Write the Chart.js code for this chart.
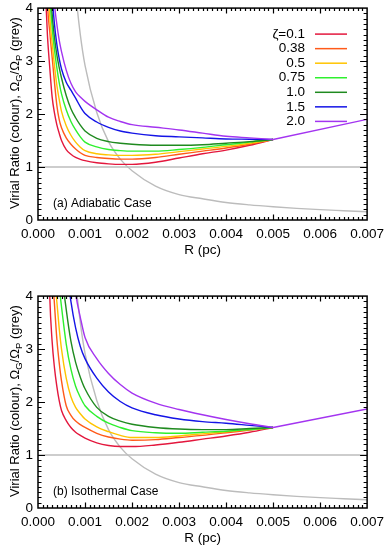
<!DOCTYPE html>
<html>
<head>
<meta charset="utf-8">
<script src="https://cdn.jsdelivr.net/npm/chart.js@4.4.1/dist/chart.umd.min.js"></script>
<style>
    html, body { margin: 0; padding: 0; background: #fff; overflow: hidden; }
    body { position: relative; width: 390px; height: 549px; }
    .panel { position: absolute; left: 0; width: 390px; height: 275px; }
    #top { top: -5px; }
    #bottom { top: 283px; }
</style>
</head>
<body>
<div class="panel" id="top"><canvas id="adiabatic" width="390" height="275"></canvas></div>
<div class="panel" id="bottom"><canvas id="isothermal" width="390" height="275"></canvas></div>
<script>
'use strict';

// radius grid (pc) shared by the coloured curves
const rGrid = [0.0001, 0.00015, 0.0002, 0.00025, 0.0003, 0.00035, 0.0004, 0.00045, 0.0005, 0.0006, 0.0007, 0.0008, 0.0009,
    0.001, 0.00125, 0.0015, 0.00175, 0.002, 0.0025, 0.003, 0.0035, 0.004, 0.0045, 0.005];

// (a) adiabatic case, virial ratio per zeta
const adiZ01  = [null, 4.5, 3.5, 2.88, 2.33, 2.02, 1.80, 1.64, 1.50, 1.33, 1.24, 1.18, 1.145, 1.12, 1.08, 1.06, 1.05, 1.05, 1.09, 1.17, 1.25, 1.32, 1.41, 1.52];
const adiZ038 = [null, 6.0, 4.15, 3.55, 3.08, 2.60, 2.17, 1.90, 1.74, 1.55, 1.43, 1.34, 1.27, 1.22, 1.18, 1.16, 1.15, 1.15, 1.18, 1.24, 1.30, 1.36, 1.43, 1.52];
const adiZ05  = [null, 7.0, 5.0, 3.85, 3.35, 2.92, 2.55, 2.28, 2.05, 1.78, 1.60, 1.47, 1.375, 1.31, 1.25, 1.23, 1.22, 1.22, 1.24, 1.29, 1.34, 1.39, 1.45, 1.52];
const adiZ075 = [null, null, 5.8, 4.3, 3.65, 3.22, 2.88, 2.60, 2.38, 2.08, 1.86, 1.70, 1.57, 1.47, 1.38, 1.33, 1.31, 1.30, 1.30, 1.33, 1.37, 1.42, 1.47, 1.52];
const adiZ10  = [null, null, 6.5, 4.7, 3.9, 3.45, 3.12, 2.88, 2.68, 2.35, 2.10, 1.93, 1.79, 1.68, 1.54, 1.48, 1.45, 1.43, 1.41, 1.41, 1.42, 1.45, 1.48, 1.52];
const adiZ15  = [null, null, 8.0, 5.6, 4.3, 3.7, 3.32, 3.05, 2.85, 2.60, 2.45, 2.30, 2.14, 2.01, 1.85, 1.75, 1.68, 1.64, 1.59, 1.57, 1.55, 1.53, 1.525, 1.52];
const adiZ20  = [null, null, 9.0, 6.5, 5.0, 4.1, 3.7, 3.4, 3.18, 2.83, 2.58, 2.42, 2.32, 2.24, 2.08, 1.94, 1.86, 1.80, 1.75, 1.70, 1.64, 1.58, 1.55, 1.52];

// (b) isothermal case
const isoZ01  = [null, null, 6.0, 4.0, 3.15, 2.65, 2.30, 2.03, 1.84, 1.65, 1.52, 1.43, 1.37, 1.32, 1.23, 1.18, 1.16, 1.16, 1.19, 1.24, 1.30, 1.36, 1.43, 1.52];
const isoZ038 = [null, null, null, 6.0, 4.6, 3.85, 3.2, 2.75, 2.4, 1.93, 1.75, 1.64, 1.575, 1.52, 1.41, 1.34, 1.30, 1.28, 1.29, 1.33, 1.37, 1.42, 1.47, 1.52];
const isoZ05  = [null, null, null, 7.5, 5.6, 4.5, 3.9, 3.4, 3.0, 2.45, 2.1, 1.9, 1.78, 1.68, 1.53, 1.44, 1.37, 1.33, 1.33, 1.36, 1.40, 1.44, 1.48, 1.52];
const isoZ075 = [null, null, null, null, 7.0, 5.6, 4.7, 4.2, 3.8, 3.1, 2.62, 2.3, 2.09, 1.93, 1.73, 1.60, 1.52, 1.46, 1.42, 1.41, 1.43, 1.45, 1.48, 1.52];
const isoZ10  = [null, null, null, null, null, 7.2, 6.0, 5.1, 4.5, 3.75, 3.15, 2.75, 2.47, 2.25, 1.90, 1.73, 1.64, 1.58, 1.52, 1.49, 1.48, 1.48, 1.50, 1.52];
const isoZ15  = [null, null, null, null, null, null, 7.8, 6.6, 5.7, 4.6, 3.9, 3.4, 3.05, 2.82, 2.45, 2.19, 2.01, 1.89, 1.76, 1.68, 1.63, 1.60, 1.56, 1.52];
const isoZ20  = [null, null, null, null, null, null, null, 8.5, 7.3, 5.8, 4.8, 4.05, 3.6, 3.22, 2.82, 2.54, 2.33, 2.17, 1.98, 1.86, 1.76, 1.67, 1.59, 1.52];

// zeta=2.0 continues past 0.005 pc
const tailR = [0.005, 0.007];
const adiTail = [1.52, 1.90];
const isoTail = [1.52, 1.87];

// grey curve: Omega_G / Omega_P
const greyR = [0.0007, 0.0008, 0.0009, 0.001, 0.00125, 0.0015, 0.00175, 0.002, 0.0025, 0.003, 0.0035, 0.004,
    0.0045, 0.005, 0.0055, 0.006, 0.0065, 0.007];
const greyRatio = [5.3, 4.3, 3.5, 2.92, 2.03, 1.48, 1.15, 0.93, 0.64, 0.48, 0.40, 0.33, 0.285, 0.25, 0.22, 0.195, 0.175, 0.155];
const unityR = [0, 0.007];
const unity = [1, 1];

const zetaLabels = ['\u03b6=0.1', '0.38', '0.5', '0.75', '1.0', '1.5', '2.0'];
const zetaColors = ['#e3173d', '#ff5a1a', '#ffc400', '#2ef02e', '#1f8a1f', '#1414e6', '#a334f0'];

const xTicks = [0, 0.001, 0.002, 0.003, 0.004, 0.005, 0.006, 0.007];
const xTickLabels = ['0.000', '0.001', '0.002', '0.003', '0.004', '0.005', '0.006', '0.007'];
const yTicks = [0, 1, 2, 3, 4];
const yTickLabels = ['0', '1', '2', '3', '4'];

const FONT = "'Liberation Sans', Arial, sans-serif";
const GREY = '#bcbcbc';

function pts(xs, ys) {
    return xs.map((x, i) => ({x: x, y: ys[i]}));
}

const framePlugin = {
    id: 'frame',
    afterDraw(chart, args, opts) {
        const {ctx, chartArea: a} = chart;
        const x = chart.scales.x, y = chart.scales.y;
        ctx.save();
        ctx.setLineDash([]);
        ctx.strokeStyle = '#000';

        ctx.lineWidth = 1.5;
        ctx.strokeRect(a.left, a.top, a.right - a.left, a.bottom - a.top);

        // inward ticks on all four sides
        ctx.lineWidth = 1.2;
        ctx.beginPath();
        for (let i = 1; i < 70; i++) {
            const px = Math.round(x.getPixelForValue(i * 0.0001)) + 0.5;
            const len = i % 10 === 0 ? 5.5 : 3;
            ctx.moveTo(px, a.bottom); ctx.lineTo(px, a.bottom - len);
            ctx.moveTo(px, a.top); ctx.lineTo(px, a.top + len);
        }
        for (let i = 1; i < 40; i++) {
            const py = Math.round(y.getPixelForValue(i * 0.1)) + 0.5;
            const len = i % 10 === 0 ? 7 : 3.5;
            ctx.moveTo(a.left, py); ctx.lineTo(a.left + len, py);
            ctx.moveTo(a.right, py); ctx.lineTo(a.right - len, py);
        }
        ctx.stroke();

        ctx.fillStyle = '#000';

        // x title
        ctx.font = '13.5px ' + FONT;
        ctx.textAlign = 'center';
        ctx.textBaseline = 'middle';
        ctx.fillText('R (pc)', (a.left + a.right) / 2, a.bottom + 30);

        // y title with subscripts
        const parts = [
            ['Virial Ratio (colour), \u03a9', false],
            ['G', true],
            ['/\u03a9', false],
            ['P', true],
            [' (grey)', false]
        ];
        const big = '13px ' + FONT, small = '9.5px ' + FONT;
        let total = 0;
        parts.forEach(p => {
            ctx.font = p[1] ? small : big;
            total += ctx.measureText(p[0]).width;
        });
        ctx.translate(19, a.top + 105);
        ctx.rotate(-Math.PI / 2);
        ctx.textAlign = 'left';
        ctx.textBaseline = 'alphabetic';
        let cx = -total / 2;
        parts.forEach(p => {
            ctx.font = p[1] ? small : big;
            ctx.fillText(p[0], cx, p[1] ? 3 : 0);
            cx += ctx.measureText(p[0]).width;
        });
        ctx.setTransform(1, 0, 0, 1, 0, 0);

        // panel label
        ctx.font = '12px ' + FONT;
        ctx.textAlign = 'left';
        ctx.fillText(opts.label, a.left + 15, a.bottom - 13.5);

        // legend
        if (opts.legend) {
            ctx.font = '13.5px ' + FONT;
            ctx.textAlign = 'right';
            ctx.textBaseline = 'middle';
            zetaLabels.forEach((lab, i) => {
                const ly = a.top + 26 + i * 14.55;
                ctx.fillStyle = '#000';
                ctx.fillText(lab, a.left + 267, ly);
                ctx.strokeStyle = zetaColors[i];
                ctx.lineWidth = 1.5;
                ctx.beginPath();
                ctx.moveTo(a.left + 277, ly);
                ctx.lineTo(a.left + 309, ly);
                ctx.stroke();
            });
        }
        ctx.restore();
    }
};

function makeChart(id, series, tail, label, legend) {
    const datasets = [];
    series.forEach((vals, i) => {
        datasets.push({
            data: pts(rGrid, vals),
            borderColor: zetaColors[i],
            order: 6 - i
        });
    });
    datasets.push({data: pts(tailR, tail), borderColor: zetaColors[6], order: 0, cubicInterpolationMode: 'default', tension: 0});
    datasets.push({data: pts(greyR, greyRatio), borderColor: GREY, order: 8});
    datasets.push({data: pts(unityR, unity), borderColor: GREY, order: 9, tension: 0});

    return new Chart(document.getElementById(id), {
        type: 'line',
        data: {datasets: datasets},
        options: {
            responsive: false,
            animation: false,
            devicePixelRatio: 1,
            events: [],
            layout: {padding: {left: 0, right: 19, top: 10, bottom: 0}},
            elements: {
                point: {radius: 0},
                line: {borderWidth: 1.4, cubicInterpolationMode: 'monotone', fill: false}
            },
            plugins: {
                legend: {display: false},
                tooltip: {enabled: false},
                frame: {label: label, legend: legend}
            },
            scales: {
                x: {
                    type: 'linear',
                    min: 0,
                    max: 0.007,
                    grid: {display: false, drawTicks: false},
                    border: {display: false},
                    afterBuildTicks: s => { s.ticks = xTicks.map(v => ({value: v})); },
                    afterFit: s => { s.height = 50; },
                    ticks: {
                        autoSkip: false,
                        maxRotation: 0,
                        padding: 6,
                        color: '#000',
                        font: {family: FONT, size: 13.5},
                        callback: (v, i) => xTickLabels[i]
                    }
                },
                y: {
                    type: 'linear',
                    min: 0,
                    max: 4,
                    grid: {display: false, drawTicks: false},
                    border: {display: false},
                    afterBuildTicks: s => { s.ticks = yTicks.map(v => ({value: v})); },
                    afterFit: s => { s.width = 38; },
                    ticks: {
                        padding: 5,
                        color: '#000',
                        font: {family: FONT, size: 13.5},
                        callback: (v, i) => yTickLabels[i]
                    }
                }
            }
        },
        plugins: [framePlugin]
    });
}

makeChart('adiabatic', [adiZ01, adiZ038, adiZ05, adiZ075, adiZ10, adiZ15, adiZ20], adiTail, '(a) Adiabatic Case', true);
makeChart('isothermal', [isoZ01, isoZ038, isoZ05, isoZ075, isoZ10, isoZ15, isoZ20], isoTail, '(b) Isothermal Case', false);
</script>
</body>
</html>
